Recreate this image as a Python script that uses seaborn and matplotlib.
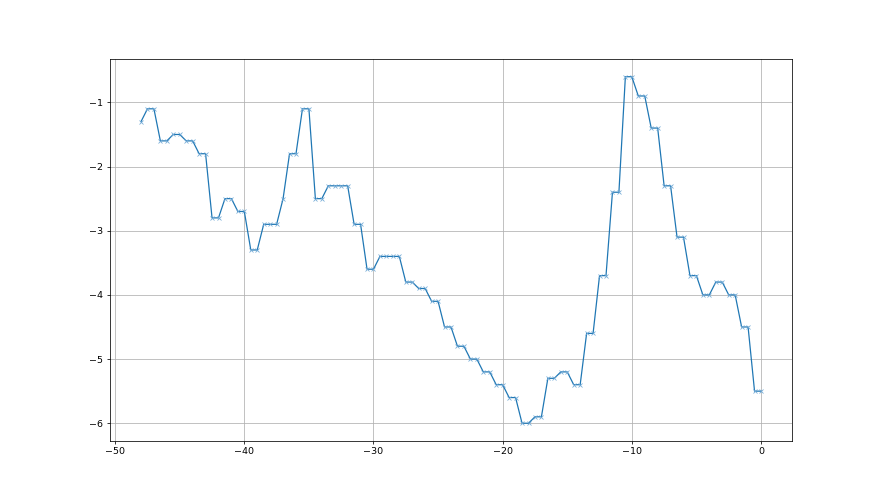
import numpy as np
import pandas as pd
import seaborn as sns
import matplotlib
matplotlib.use("Agg")
import matplotlib.pyplot as plt

# x positions (step 0.5) and the values
x_values = [
    -48.0, -47.5, -47.0, -46.5, -46.0, -45.5, -45.0, -44.5, -44.0, -43.5,
    -43.0, -42.5, -42.0, -41.5, -41.0, -40.5, -40.0, -39.5, -39.0, -38.5,
    -38.0, -37.5, -37.0, -36.5, -36.0, -35.5, -35.0, -34.5, -34.0, -33.5,
    -33.0, -32.5, -32.0, -31.5, -31.0, -30.5, -30.0, -29.5, -29.0, -28.5,
    -28.0, -27.5, -27.0, -26.5, -26.0, -25.5, -25.0, -24.5, -24.0, -23.5,
    -23.0, -22.5, -22.0, -21.5, -21.0, -20.5, -20.0, -19.5, -19.0, -18.5,
    -18.0, -17.5, -17.0, -16.5, -16.0, -15.5, -15.0, -14.5, -14.0, -13.5,
    -13.0, -12.5, -12.0, -11.5, -11.0, -10.5, -10.0, -9.5, -9.0, -8.5,
    -8.0, -7.5, -7.0, -6.5, -6.0, -5.5, -5.0, -4.5, -4.0, -3.5,
    -3.0, -2.5, -2.0, -1.5, -1.0, -0.5, 0.0,
]
y_values = [
    -1.3, -1.1, -1.1, -1.6, -1.6, -1.5, -1.5, -1.6, -1.6, -1.8,
    -1.8, -2.8, -2.8, -2.5, -2.5, -2.7, -2.7, -3.3, -3.3, -2.9,
    -2.9, -2.9, -2.5, -1.8, -1.8, -1.1, -1.1, -2.5, -2.5, -2.3,
    -2.3, -2.3, -2.3, -2.9, -2.9, -3.6, -3.6, -3.4, -3.4, -3.4,
    -3.4, -3.8, -3.8, -3.9, -3.9, -4.1, -4.1, -4.5, -4.5, -4.8,
    -4.8, -5.0, -5.0, -5.2, -5.2, -5.4, -5.4, -5.6, -5.6, -6.0,
    -6.0, -5.9, -5.9, -5.3, -5.3, -5.2, -5.2, -5.4, -5.4, -4.6,
    -4.6, -3.7, -3.7, -2.4, -2.4, -0.6, -0.6, -0.9, -0.9, -1.4,
    -1.4, -2.3, -2.3, -3.1, -3.1, -3.7, -3.7, -4.0, -4.0, -3.8,
    -3.8, -4.0, -4.0, -4.5, -4.5, -5.5, -5.5,
]

df = pd.DataFrame({"x": x_values, "y": y_values})

fig, ax = plt.subplots(figsize=(12.8, 7.2), dpi=68.75)

sns.lineplot(
    data=df, x="x", y="y", ax=ax,
    color="#1f77b4", marker="x",
    markeredgecolor="#6fa8d6", markeredgewidth=0.8, markersize=4.5,
    linewidth=1.3,
)

ax.set_xlabel("")
ax.set_ylabel("")
ax.grid(True, color="#b0b0b0", linewidth=0.8)
ax.set_axisbelow(True)

fig.savefig("out.png", dpi=68.75)
